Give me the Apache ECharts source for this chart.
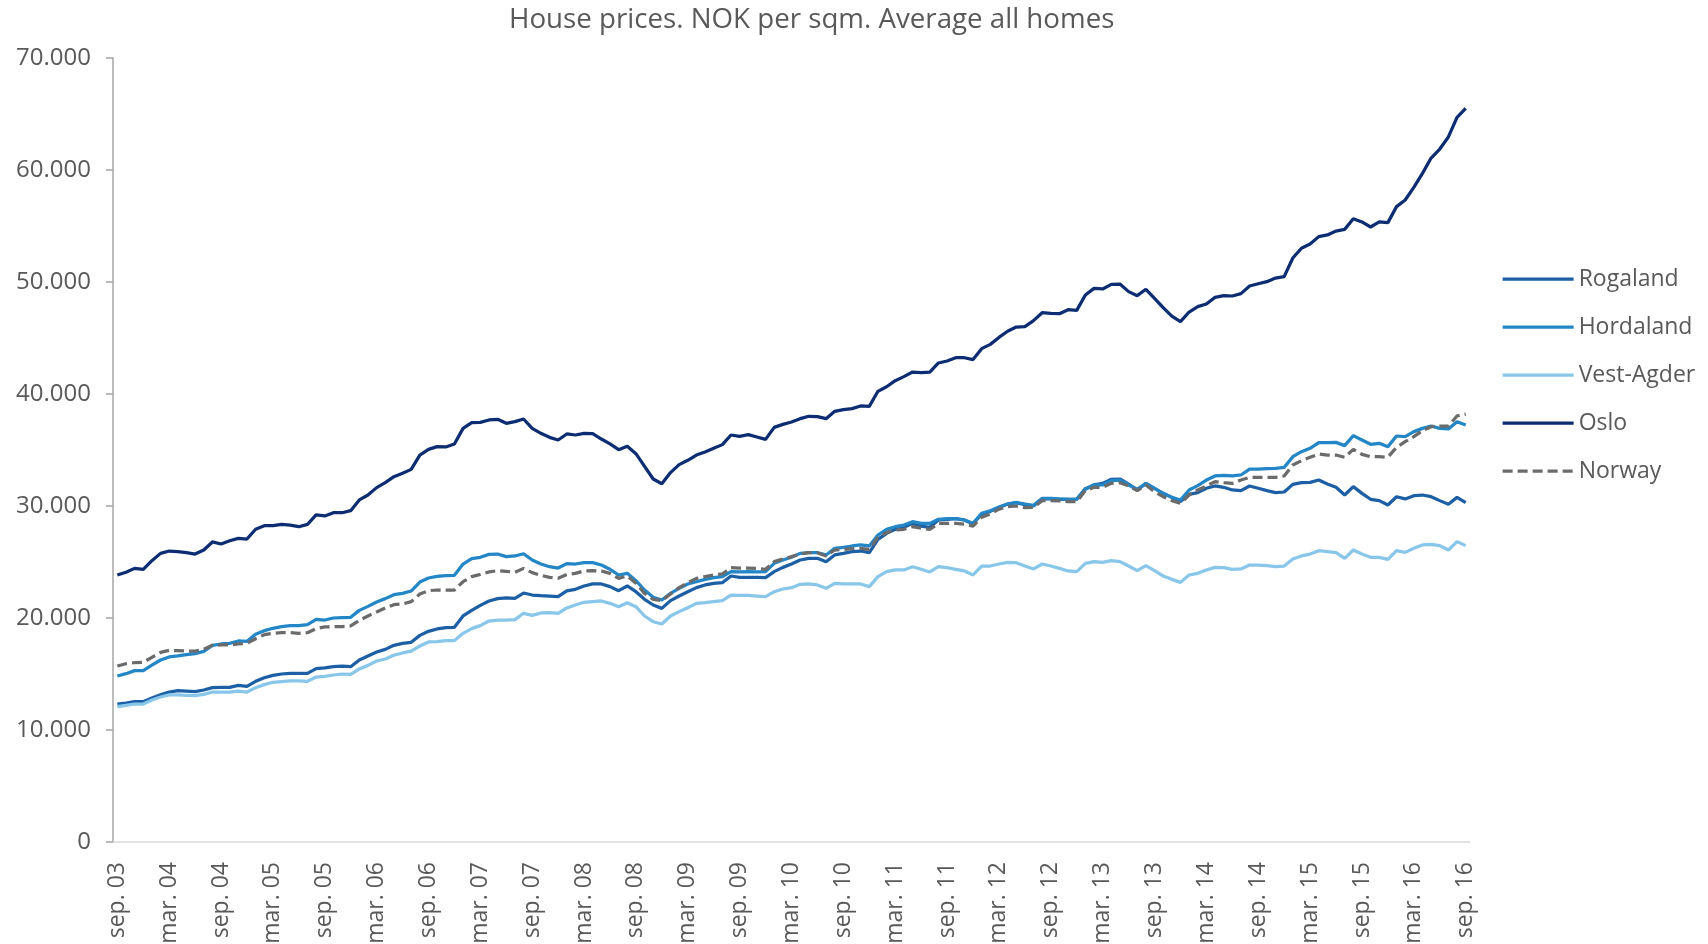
<!DOCTYPE html>
<html>
<head>
<meta charset="utf-8">
<title>House prices</title>
<script src="https://cdn.jsdelivr.net/npm/echarts@6/dist/echarts.min.js"></script>
<style>
  html, body { margin: 0; padding: 0; background: #fff; }
  #chart { width: 1708px; height: 944px; }
</style>
</head>
<body>
<div id="chart"></div>
<script>
// monthly, sep. 03 - sep. 16 (NOK per sqm)
const monthNames = ['jan.', 'feb.', 'mar.', 'apr.', 'mai', 'jun.', 'jul.', 'aug.', 'sep.', 'okt.', 'nov.', 'des.'];
const startYear = 2003, startMonth = 8, monthCount = 157;

const rogaland = [
    12320, 12410, 12530, 12530, 12860, 13150, 13390, 13510, 13480, 13420,
    13570, 13780, 13810, 13810, 13990, 13900, 14350, 14670, 14880, 15000,
    15060, 15060, 15060, 15480, 15540, 15650, 15710, 15650, 16250, 16610,
    16960, 17200, 17560, 17740, 17830, 18450, 18810, 19020, 19140, 19170,
    20180, 20680, 21130, 21520, 21730, 21790, 21760, 22230, 22050, 21990,
    21960, 21900, 22420, 22560, 22860, 23040, 23040, 22800, 22440, 22860,
    22350, 21670, 21160, 20860, 21550, 21960, 22350, 22710, 22950, 23100,
    23150, 23750, 23630, 23630, 23630, 23600, 24140, 24520, 24820, 25180,
    25330, 25330, 25030, 25630, 25770, 25920, 25980, 25830, 27020, 27560,
    27920, 28100, 28450, 28210, 28100, 28750, 28810, 28870, 28750, 28390,
    29290, 29520, 29860, 30180, 30300, 30120, 30000, 30630, 30630, 30600,
    30600, 30600, 31550, 31880, 32020, 32380, 32410, 31960, 31430, 32020,
    31580, 31130, 30770, 30390, 31040, 31190, 31580, 31790, 31670, 31430,
    31370, 31790, 31580, 31370, 31190, 31250, 31930, 32080, 32110, 32320,
    31960, 31670, 30980, 31730, 31130, 30600, 30480, 30090, 30830, 30630,
    30920, 30980, 30830, 30480, 30150, 30770, 30300
];
const hordaland = [
    14820, 15030, 15300, 15300, 15800, 16250, 16520, 16610, 16730, 16820,
    17020, 17560, 17680, 17740, 17950, 17920, 18540, 18870, 19080, 19230,
    19320, 19320, 19400, 19880, 19820, 20000, 20030, 20060, 20680, 21040,
    21430, 21730, 22080, 22200, 22410, 23210, 23570, 23720, 23780, 23810,
    24820, 25300, 25420, 25680, 25710, 25480, 25540, 25740, 25180, 24820,
    24580, 24460, 24860, 24820, 24940, 24940, 24730, 24350, 23840, 23990,
    23330, 22500, 21850, 21610, 22200, 22650, 23040, 23240, 23450, 23600,
    23690, 24140, 24110, 24140, 24110, 24140, 24880, 25180, 25420, 25770,
    25830, 25830, 25630, 26220, 26310, 26430, 26520, 26430, 27410, 27920,
    28150, 28300, 28600, 28450, 28450, 28810, 28870, 28870, 28750, 28450,
    29350, 29580, 29910, 30180, 30300, 30180, 30060, 30680, 30680, 30630,
    30600, 30600, 31490, 31880, 31880, 32260, 32320, 31880, 31490, 32020,
    31580, 31130, 30770, 30540, 31430, 31820, 32320, 32680, 32740, 32680,
    32770, 33300, 33300, 33330, 33360, 33450, 34400, 34850, 35150, 35650,
    35650, 35680, 35390, 36280, 35890, 35510, 35600, 35300, 36250, 36190,
    36640, 36930, 37140, 36930, 36880, 37530, 37230
];
const vestAgder = [
    12080, 12200, 12320, 12320, 12680, 12950, 13130, 13130, 13100, 13070,
    13180, 13390, 13390, 13390, 13480, 13390, 13780, 14050, 14260, 14320,
    14380, 14380, 14350, 14730, 14790, 14910, 15000, 14970, 15450, 15770,
    16160, 16340, 16670, 16880, 17050, 17500, 17860, 17890, 17980, 17980,
    18630, 19050, 19320, 19730, 19820, 19820, 19850, 20420, 20240, 20450,
    20480, 20420, 20900, 21160, 21400, 21460, 21520, 21310, 21010, 21370,
    21010, 20180, 19670, 19460, 20180, 20570, 20920, 21310, 21370, 21460,
    21550, 22050, 22020, 22020, 21960, 21900, 22350, 22590, 22710, 23010,
    23040, 22950, 22650, 23100, 23040, 23040, 23040, 22800, 23690, 24140,
    24290, 24290, 24580, 24350, 24110, 24580, 24490, 24350, 24200, 23840,
    24640, 24640, 24820, 24970, 24940, 24640, 24380, 24820, 24640, 24430,
    24200, 24140, 24880, 25030, 24970, 25120, 25030, 24640, 24230, 24670,
    24230, 23750, 23450, 23180, 23840, 23990, 24290, 24520, 24490, 24350,
    24380, 24730, 24730, 24670, 24580, 24640, 25270, 25540, 25710, 26010,
    25920, 25830, 25330, 26070, 25710, 25420, 25420, 25240, 26010, 25860,
    26220, 26520, 26580, 26460, 26070, 26820, 26460
];
const oslo = [
    23840, 24080, 24430, 24350, 25120, 25770, 25980, 25920, 25830, 25710,
    26070, 26790, 26610, 26900, 27110, 27050, 27920, 28240, 28240, 28360,
    28300, 28150, 28360, 29200, 29110, 29400, 29400, 29580, 30540, 30980,
    31640, 32080, 32620, 32920, 33270, 34550, 35060, 35300, 35270, 35540,
    36930, 37440, 37470, 37680, 37740, 37380, 37530, 37770, 36930, 36490,
    36130, 35890, 36430, 36340, 36490, 36460, 35980, 35540, 35030, 35330,
    34670, 33540, 32410, 31990, 32980, 33690, 34080, 34550, 34820, 35150,
    35480, 36340, 36220, 36370, 36160, 35950, 37020, 37290, 37500, 37800,
    38010, 37980, 37800, 38450, 38600, 38690, 38930, 38900, 40240, 40650,
    41190, 41550, 41960, 41900, 41960, 42770, 42950, 43240, 43240, 43070,
    44050, 44430, 45050, 45600, 45980, 46010, 46550, 47260, 47200, 47170,
    47530, 47470, 48840, 49430, 49380, 49790, 49820, 49140, 48780, 49350,
    48540, 47710, 46960, 46460, 47320, 47800, 48040, 48630, 48780, 48750,
    48960, 49640, 49840, 50030, 50350, 50480, 52140, 53010, 53390, 54050,
    54200, 54550, 54700, 55650, 55360, 54910, 55360, 55300, 56730, 57320,
    58450, 59700, 61070, 61870, 62950, 64700, 65510
];
const norway = [
    15710, 15920, 16010, 16040, 16490, 16930, 17110, 17080, 17050, 17050,
    17200, 17560, 17590, 17590, 17680, 17740, 18150, 18510, 18630, 18690,
    18690, 18630, 18690, 19050, 19200, 19230, 19230, 19290, 19790, 20180,
    20540, 20890, 21190, 21250, 21460, 22140, 22440, 22500, 22500, 22500,
    23240, 23690, 23900, 24110, 24230, 24170, 24080, 24430, 24050, 23810,
    23630, 23540, 23890, 23990, 24200, 24230, 24200, 23990, 23540, 23750,
    23100, 22200, 21670, 21550, 22140, 22710, 23150, 23540, 23690, 23840,
    23930, 24490, 24460, 24460, 24430, 24350, 25030, 25270, 25480, 25710,
    25830, 25830, 25540, 26070, 26130, 26190, 26220, 26130, 27200, 27620,
    27860, 27920, 28150, 28010, 27920, 28450, 28450, 28450, 28390, 28210,
    28990, 29290, 29720, 29940, 30000, 29850, 29880, 30480, 30480, 30450,
    30390, 30390, 31370, 31670, 31670, 32020, 32080, 31790, 31370, 31880,
    31280, 30830, 30480, 30240, 30980, 31430, 31790, 32170, 32080, 32020,
    32320, 32560, 32560, 32560, 32560, 32680, 33660, 34050, 34350, 34640,
    34550, 34550, 34350, 35060, 34610, 34400, 34400, 34350, 35240, 35740,
    36190, 36730, 37080, 37140, 37140, 38040, 38210
];

const seriesNames = ['Rogaland', 'Hordaland', 'Vest-Agder', 'Oslo', 'Norway'];
const colors = ['#1C5FA5', '#2386C6', '#88C6EA', '#0D2D73', '#6B6B6B'];

// "sep. 03", "okt. 03", ...
const months = [];
for (let k = 0; k < monthCount; k++) {
    const m = (startMonth + k) % 12;
    const y = startYear + Math.floor((startMonth + k) / 12);
    months.push(monthNames[m] + ' ' + String(y % 100).padStart(2, '0'));
}

const textColor = '#595959';
const font = 'Open Sans';

function fmtThousands(v) {
    if (v === 0) return '0';
    return String(v).replace(/\B(?=(\d{3})+(?!\d))/g, '.');
}

function lineSeries(name, data, color, dashed) {
    return {
        name: name,
        type: 'line',
        data: data,
        symbol: 'none',
        smooth: false,
        lineStyle: { width: 3.25, color: color, type: dashed ? [10, 5] : 'solid' },
        itemStyle: { color: color }
    };
}

const chart = echarts.init(document.getElementById('chart'));
chart.setOption({
    color: colors,
    animation: false,
    title: {
        text: 'House prices. NOK per sqm. Average all homes',
        left: 504,
        top: 1,
        textStyle: { fontFamily: font, fontSize: 27.7, fontWeight: 'normal', color: textColor }
    },
    legend: {
        orient: 'vertical',
        left: 1496,
        top: 261,
        itemWidth: 71,
        itemHeight: 14,
        itemGap: 22,
        data: seriesNames,
        // line only, no marker in the legend
        itemStyle: { opacity: 0 },
        lineStyle: { width: 3.25 },
        textStyle: { fontFamily: font, fontSize: 23, color: textColor, lineHeight: 26 }
    },
    grid: {
        left: 113,
        right: 238,
        top: 58,
        bottom: 102,
        containLabel: false,
        outerBoundsMode: 'none'
    },
    xAxis: {
        type: 'category',
        data: months,
        boundaryGap: true,
        axisLine: { show: true, lineStyle: { color: '#D9D9D9', width: 1.5 } },
        axisTick: { show: false },
        splitLine: { show: false },
        axisLabel: {
            interval: 5,
            rotate: 90,
            margin: 20,
            fontFamily: font,
            fontSize: 23,
            color: textColor
        }
    },
    yAxis: {
        type: 'value',
        min: 0,
        max: 70000,
        interval: 10000,
        axisLine: { show: true, lineStyle: { color: '#A6A6A6', width: 1.5 } },
        axisTick: { show: true, length: 7, lineStyle: { color: '#A6A6A6', width: 1.5 } },
        splitLine: { show: false },
        axisLabel: {
            margin: 22,
            fontFamily: font,
            fontSize: 24,
            color: textColor,
            formatter: fmtThousands
        }
    },
    series: [
        lineSeries('Rogaland', rogaland, colors[0], false),
        lineSeries('Hordaland', hordaland, colors[1], false),
        lineSeries('Vest-Agder', vestAgder, colors[2], false),
        lineSeries('Oslo', oslo, colors[3], false),
        lineSeries('Norway', norway, colors[4], true)
    ]
});
</script>
</body>
</html>
